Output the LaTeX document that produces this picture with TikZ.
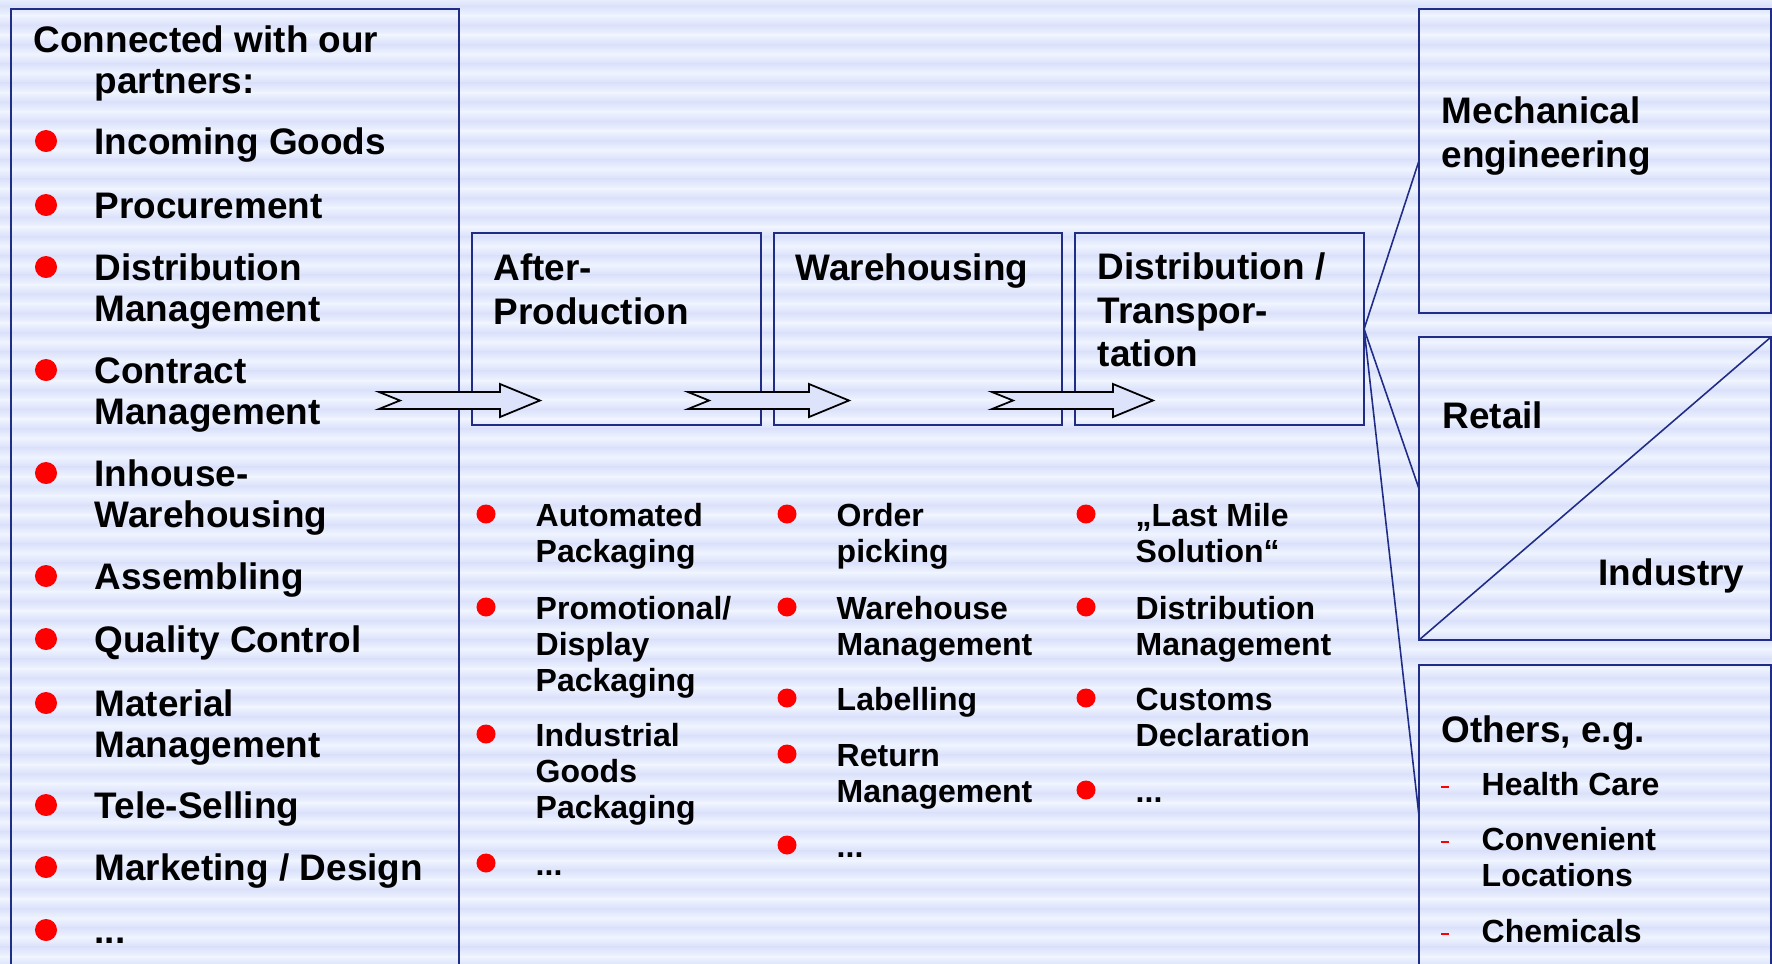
\documentclass[tikz,border=0pt]{standalone}
\usepackage{fontspec}
\setmainfont{Liberation Sans}
\usepackage{xcolor}
\usepackage{tikz}

\definecolor{frame}{RGB}{31,45,134}
\definecolor{bullet}{RGB}{255,0,0}
\definecolor{stripelight}{RGB}{239,244,255}
\definecolor{stripedark}{RGB}{219,225,250}
\definecolor{arrowfill}{RGB}{221,227,250}
\newcommand{\etcdots}{...}

\begin{document}
\begin{tikzpicture}[
  x=0.01cm, y=-0.01cm,
  box/.style={draw=frame, line width=0.6pt, inner sep=0pt, outer sep=0pt},
  % the given point is the baseline of the first line (texts start with \strut)
  big/.style={font=\fontsize{10.5}{11.7}\selectfont\bfseries, align=left, anchor=north west,
    inner sep=0pt, yshift=8.19pt},
  head/.style={big, font=\fontsize{10.5}{12.4}\selectfont\bfseries, yshift=8.68pt-8.19pt},
  small/.style={big, font=\fontsize{9.1}{10.25}\selectfont\bfseries, yshift=7.175pt-8.19pt},
  dot/.style={fill=bullet},
  dashmark/.style={draw=bullet, line width=0.55pt},
  fan/.style={draw=frame, line width=0.45pt},
  blockarrow/.pic={
    \draw[fill=arrowfill, line width=0.5pt, line join=miter]
      (0,-8.5) -- (121,-8.5) -- (121,-16.5) -- (161,0) -- (121,16.5)
      -- (121,8.5) -- (0,8.5) -- (21,0) -- cycle;
  }
]
\useasboundingbox (0,0) rectangle (1772,963);

% ── Striped background ───────────────────────────────────────
\fill[stripelight] (0,0) rectangle (1772,963);
\foreach \k in {-1,0,...,50} {
  \shade[top color=stripelight, bottom color=stripedark] (0,{6+19.2*\k-9.6}) rectangle (1772,{6+19.2*\k});
  \shade[top color=stripedark, bottom color=stripelight] (0,{6+19.2*\k}) rectangle (1772,{6+19.2*\k+9.6});
}

% ── Frames ───────────────────────────────────────────────────
\node[box, minimum width=4.48cm, minimum height=9.61cm] (partners) at (235,489.5) {};
\node[box, minimum width=2.89cm, minimum height=1.92cm] (afterprod) at (616.5,329) {};
\node[box, minimum width=2.88cm, minimum height=1.92cm] (warehouse) at (918,329) {};
\node[box, minimum width=2.89cm, minimum height=1.92cm] (distrib)   at (1219.5,329) {};
\node[box, minimum width=3.52cm, minimum height=3.04cm] (mech)   at (1595,161) {};
\node[box, minimum width=3.52cm, minimum height=3.03cm] (retail) at (1595,488.5) {};
\node[box, minimum width=3.52cm, minimum height=3.00cm] (others) at (1595,815) {};

% ── Fan-out to the sectors ───────────────────────────────────
\draw[fan] (distrib.east) -- (mech.west);
\draw[fan] (distrib.east) -- (retail.west);
\draw[fan] (distrib.east) -- (others.west);
\draw[fan] (retail.south west) -- (retail.north east);

% ── Process arrows ───────────────────────────────────────────
\pic (step1) at (379,400.5) {blockarrow};
\pic (step2) at (688,400.5) {blockarrow};
\pic (step3) at (992,400.5) {blockarrow};

% ── Partner services (left) ──────────────────────────────────
\node[big] (title) at (33,52) {\strut Connected with our\\\hspace*{0.61cm}partners:};
\foreach \y/\txt [count=\i] in {154/Incoming Goods, 218/Procurement,
    280/{Distribution\\Management}, 383/{Contract\\Management},
    486/{Inhouse-\\Warehousing}, 589/Assembling, 652/Quality Control,
    716/{Material\\Management}, 818/Tele-Selling, 880/{Marketing / Design}, 943/\etcdots} {
  \fill[dot] (46,\y-13) circle[radius=0.11cm];
  \node[big] (left\i) at (94,\y) {\strut\txt};
}

% ── Stage headings ───────────────────────────────────────────
\node[head] (afterlbl) at (493,280)  {\strut After-\\Production};
\node[head] (warelbl)  at (795,280)  {\strut Warehousing};
\node[head] (distlbl)  at (1097,279) {\strut Distribution /\\Transpor-\\tation};

% ── Stage services ───────────────────────────────────────────
\foreach \y/\txt [count=\i] in {526/{Automated\\Packaging}, 619/{Promotional/\\Display\\Packaging},
    746/{Industrial\\Goods\\Packaging}, 875/\etcdots} {
  \fill[dot] (486,\y-12) circle[radius=0.095cm];
  \node[small] (after\i) at (535,\y) {\strut\txt};
}
\foreach \y/\txt [count=\i] in {526/{Order\\picking}, 619/{Warehouse\\Management},
    710/Labelling, 766/{Return\\Management}, 857/\etcdots} {
  \fill[dot] (787,\y-12) circle[radius=0.095cm];
  \node[small] (ware\i) at (836,\y) {\strut\txt};
}
\foreach \y/\txt [count=\i] in {526/{„Last Mile\\Solution“}, 619/{Distribution\\Management},
    710/{Customs\\Declaration}, 802/\etcdots} {
  \fill[dot] (1086,\y-12) circle[radius=0.095cm];
  \node[small] (dist\i) at (1135,\y) {\strut\txt};
}

% ── Sectors (right) ──────────────────────────────────────────
\node[head] (mechlbl)   at (1441,123) {\strut Mechanical\\engineering};
\node[head] (retaillbl) at (1442,428) {\strut Retail};
\node[head, anchor=north east] (indlbl) at (1745,585) {\strut Industry};
\node[head] (otherslbl) at (1441,742) {\strut Others, e.g.};
\foreach \y/\txt [count=\i] in {795/Health Care, 850/{Convenient\\Locations}, 942/Chemicals} {
  \draw[dashmark] (1441,\y-8) -- (1449,\y-8);
  \node[small] (sector\i) at (1481,\y) {\strut\txt};
}

\end{tikzpicture}
\end{document}
